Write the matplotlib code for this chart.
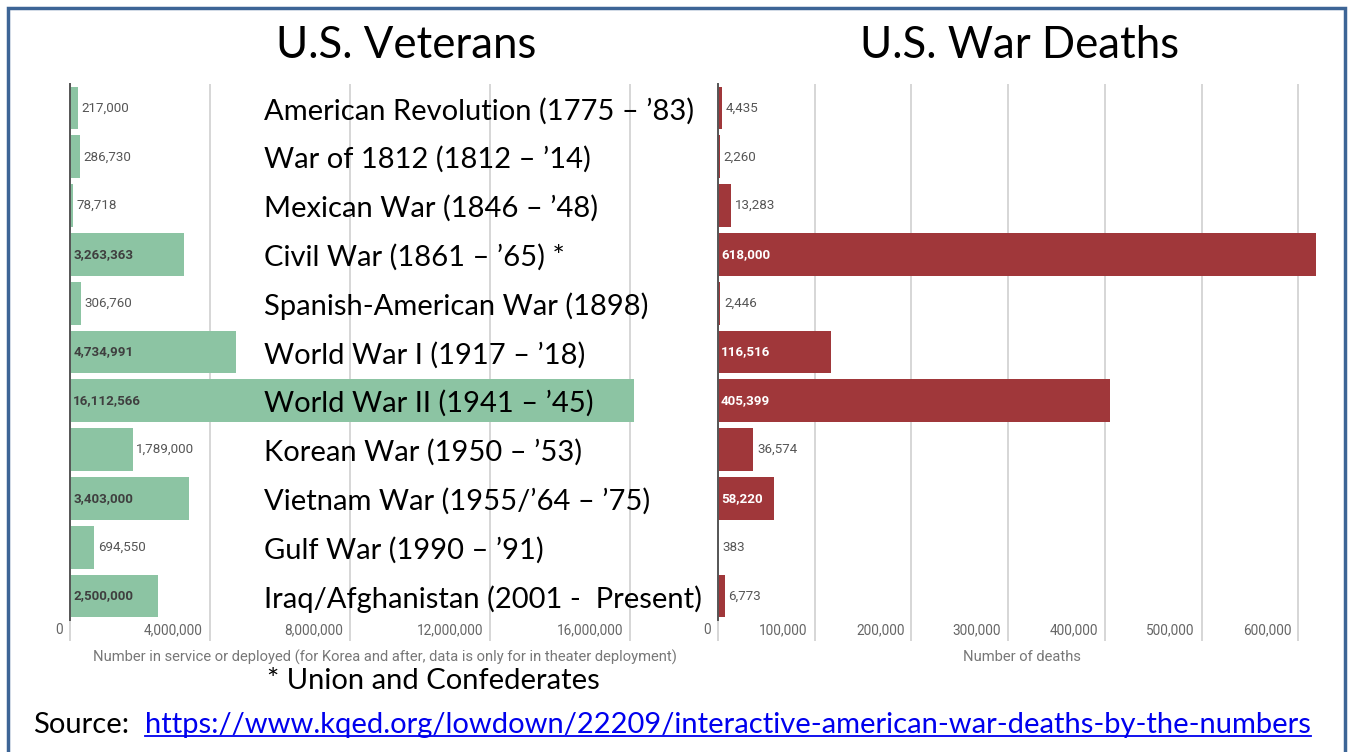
import matplotlib
matplotlib.use("Agg")
import matplotlib.pyplot as plt
import matplotlib.transforms as mtransforms
from matplotlib.patches import Rectangle
from matplotlib.lines import Line2D

# --- data ---
wars = [
    "American Revolution (1775 \u2013 \u201983)",
    "War of 1812 (1812 \u2013 \u201914)",
    "Mexican War (1846 \u2013 \u201948)",
    "Civil War (1861 \u2013 \u201965) *",
    "Spanish-American War (1898)",
    "World War I (1917 \u2013 \u201918)",
    "World War II (1941 \u2013 \u201945)",
    "Korean War (1950 \u2013 \u201953)",
    "Vietnam War (1955/\u201964 \u2013 \u201975)",
    "Gulf War (1990 \u2013 \u201991)",
    "Iraq/Afghanistan (2001 -  Present)",
]
veterans = [217000, 286730, 78718, 3263363, 306760, 4734991, 16112566,
            1789000, 3403000, 694550, 2500000]
deaths = [4435, 2260, 13283, 618000, 2446, 116516, 405399,
          36574, 58220, 383, 6773]
vet_ticks = [0, 4000000, 8000000, 12000000, 16000000]
death_ticks = [0, 100000, 200000, 300000, 400000, 500000, 600000]

GREEN = "#8cc4a3"
RED = "#a0373a"
GRID = "#cfcfcf"
BIG_FONT = "Lato"
SMALL_FONT = "Roboto"

W, H = 1353, 752
fig = plt.figure(figsize=(W / 100, H / 100), dpi=100)
fig.patch.set_facecolor("white")


def px_box(x0, x1, y0, y1):
    """pixel box (top-left origin) -> figure fraction rect"""
    return [x0 / W, 1 - y1 / H, (x1 - x0) / W, (y1 - y0) / H]


def setup_axis(ax, ticks, xmax, xlabel):
    ax.set_xlim(0, xmax)
    ax.set_ylim(len(wars) - 0.5, -0.5)
    ax.set_yticks([])
    for s in ["top", "right", "bottom"]:
        ax.spines[s].set_visible(False)
    ax.spines["left"].set_color("#555555")
    ax.spines["left"].set_linewidth(1.4)
    ax.set_xticks(ticks)
    ax.set_xticklabels([f"{t:,}" for t in ticks])
    ax.tick_params(axis="x", direction="out", length=15, width=1.2, color=GRID,
                   pad=-13, labelsize=9.8, labelcolor="#666666")
    offset = mtransforms.ScaledTranslation(-5 / 72, 0, fig.dpi_scale_trans)
    for lbl in ax.get_xticklabels():
        lbl.set_horizontalalignment("right")
        lbl.set_fontfamily(SMALL_FONT)
        lbl.set_transform(lbl.get_transform() + offset)
    ax.grid(axis="x", color=GRID, linewidth=1.2)
    ax.set_axisbelow(True)
    ax.set_xlabel(xlabel, fontsize=10.6, color="#777777", family=SMALL_FONT, labelpad=6)


def bar_labels(ax, values, limit, inside_color):
    xr = ax.get_xlim()[1]
    for i, v in enumerate(values):
        if v >= limit:
            ax.text(xr * 0.005, i, f"{v:,}", va="center", ha="left", fontsize=9.6,
                    family=SMALL_FONT, color=inside_color, weight="bold")
        else:
            ax.text(v + xr * 0.006, i, f"{v:,}", va="center", ha="left", fontsize=9.6,
                    family=SMALL_FONT, color="#555555")


# --- left panel: veterans ---
ax1 = fig.add_axes(px_box(70, 700, 83.6, 620.4))
ax1.barh(range(len(wars)), veterans, height=0.88, color=GREEN)
setup_axis(ax1, vet_ticks, 18000000,
           "Number in service or deployed (for Korea and after, data is only for in theater deployment)")
bar_labels(ax1, veterans, 2400000, "#3f3f3f")
for i, w in enumerate(wars):
    ax1.text((264 - 70) / 630, i + 0.06, w, transform=ax1.get_yaxis_transform(),
             va="center", ha="left", fontsize=21, family=BIG_FONT, color="black")

# --- right panel: deaths ---
ax2 = fig.add_axes(px_box(718, 1325, 83.6, 620.4))
ax2.barh(range(len(wars)), deaths, height=0.88, color=RED)
setup_axis(ax2, death_ticks, 627700, "Number of deaths")
bar_labels(ax2, deaths, 50000, "white")

# --- titles and notes ---
fig.text(406 / W, 1 - 45 / H, "U.S. Veterans", ha="center", va="center",
         fontsize=31.5, family=BIG_FONT)
fig.text(1020 / W, 1 - 45 / H, "U.S. War Deaths", ha="center", va="center",
         fontsize=31.5, family=BIG_FONT)
fig.text(267 / W, 1 - 681 / H, "* Union and Confederates", ha="left", va="center",
         fontsize=21, family=BIG_FONT)
fig.text(33 / W, 1 - 725 / H, "Source:", ha="left", va="center",
         fontsize=21, family=BIG_FONT)
link = fig.text(145 / W, 1 - 725 / H,
                "https://www.kqed.org/lowdown/22209/interactive-american-war-deaths-by-the-numbers",
                ha="left", va="center", fontsize=21, family=BIG_FONT, color="#0000ee")

fig.canvas.draw()
bb = link.get_window_extent().transformed(fig.transFigure.inverted())
fig.add_artist(Line2D([bb.x0, bb.x1], [bb.y0 + 0.003, bb.y0 + 0.003],
                      color="#0000ee", linewidth=1.3, transform=fig.transFigure))

# outer frame
fig.add_artist(Rectangle((8 / W, -0.05), (1345 - 8) / W, 1.05 - 8 / H,
                         transform=fig.transFigure, fill=False,
                         edgecolor="#3d6596", linewidth=2.5, clip_on=False))

fig.savefig("out.png", dpi=100)
